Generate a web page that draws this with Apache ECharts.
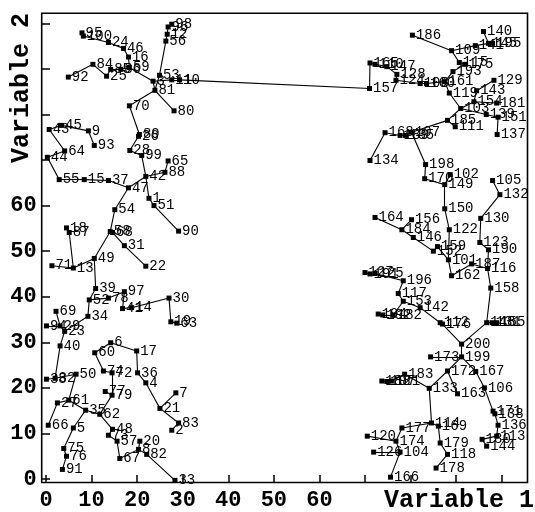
<!DOCTYPE html>
<html>
<head>
<meta charset="utf-8">
<script src="https://cdn.jsdelivr.net/npm/echarts@6/dist/echarts.min.js"></script>
<style>
html,body{margin:0;padding:0;background:#fff;}
#chart{width:535px;height:512px;}
</style>
</head>
<body>
<div id="chart"></div>
<script>
// ---- data ----
const leftIds = [98,96,12,56,95,100,24,46,16,59,84,25,85,86,92,53,3,11,10,81,
  70,80,89,26,45,43,9,93,64,44,28,99,65,55,15,37,47,42,88,1,
  51,90,54,18,87,58,68,31,22,49,13,71,39,52,78,97,41,14,30,19,
  63,69,34,94,29,23,40,6,60,17,74,72,36,4,38,32,50,77,79,7,
  21,83,2,27,61,35,62,66,5,48,73,57,20,8,82,67,75,76,91,33];
const leftX = [27.6,26.8,26.6,26.3,7.9,8.2,13.7,17.0,18.1,18.3,10.3,13.3,14.2,16.4,4.9,24.9,23.5,27.6,29.3,23.9,
  18.3,28.1,20.5,20.3,3.4,0.7,9.3,10.6,4.1,0.3,18.4,21.0,26.8,2.9,8.4,13.7,18.1,21.9,26.1,22.6,
  23.7,29.1,15.1,4.5,5.1,14.1,14.6,17.2,21.9,10.6,6.0,1.3,10.9,9.5,13.7,17.2,16.8,18.8,27.0,27.4,
  28.7,2.2,9.2,0.1,3.1,4.1,3.1,14.2,10.7,19.9,12.6,14.5,20.1,21.9,0.1,2.0,6.6,13.0,14.5,28.5,
  25.0,29.1,27.6,2.5,5.0,8.7,11.8,0.5,6.0,14.6,13.7,15.6,20.6,20.3,22.1,16.2,3.9,4.5,3.6,28.3];
const leftY = [99.8,99.2,97.6,96.1,97.9,97.2,95.8,94.5,92.6,90.3,91.0,88.4,89.9,89.9,88.2,88.6,87.3,87.6,87.6,85.3,
  81.9,80.8,75.6,75.2,77.6,76.7,76.4,73.2,72.0,70.6,72.1,71.0,69.8,65.7,65.7,65.5,63.9,66.4,67.3,61.6,
  60.0,54.4,59.1,55.1,54.1,54.3,54.1,51.2,46.7,48.4,46.3,46.8,41.8,39.3,39.7,41.1,37.4,37.6,39.7,34.5,
  34.2,36.8,35.7,33.6,33.6,32.4,29.2,29.9,27.7,28.1,23.7,23.3,23.3,21.1,21.9,22.1,23.0,19.2,18.4,18.9,
  15.5,12.3,10.7,16.7,17.3,15.1,14.2,11.8,11.2,10.9,9.6,8.3,8.3,6.5,5.4,4.5,6.7,5.0,2.1,-0.3];

const rightIds = [186,140,109,141,145,195,115,175,193,165,110,147,157,128,124,108,160,161,119,143,
  129,154,181,103,139,151,185,111,137,168,189,135,107,134,198,170,102,149,105,132,
  150,130,164,156,184,146,122,123,190,159,152,101,187,116,162,158,127,191,125,196,
  117,153,142,194,192,182,112,176,148,131,155,200,173,199,172,167,183,188,197,121,
  133,163,106,171,138,136,113,180,144,177,114,169,179,118,178,120,174,126,104,166];
const rightX = [80.4,96.0,89.0,94.2,97.1,98.0,90.7,91.9,89.3,71.1,72.2,74.8,71.0,77.0,76.8,82.1,83.5,87.5,88.5,94.5,
  98.3,93.9,98.9,91.0,96.6,99.2,88.1,89.8,99.0,74.4,77.7,78.9,80.2,71.1,83.3,83.1,88.7,87.5,98.0,99.6,
  87.5,95.4,72.2,80.2,78.1,80.6,88.5,95.2,97.1,85.9,85.0,88.3,93.4,96.9,89.0,97.6,70.0,71.1,72.2,78.4,
  77.3,78.4,82.1,72.9,73.9,76.2,86.5,87.0,96.7,97.9,98.9,91.2,84.4,91.2,88.1,94.3,78.7,73.7,74.8,75.8,
  84.1,90.3,96.2,98.1,98.5,99.2,98.9,95.7,96.7,78.1,84.6,86.1,86.5,88.1,85.6,70.5,76.8,71.9,77.7,75.6];
const rightY = [97.4,98.2,94.0,95.1,95.6,95.6,91.4,91.0,89.4,91.3,91.0,90.5,85.7,88.8,87.5,86.8,86.8,87.2,84.7,85.2,
  87.5,82.8,82.5,81.3,80.0,79.4,78.7,77.3,75.6,76.0,75.4,75.4,76.1,69.9,69.0,65.9,66.8,64.6,65.5,62.4,
  59.3,57.2,57.4,56.9,54.7,53.0,54.7,51.9,50.3,51.0,50.0,48.1,47.2,46.2,44.6,41.9,45.3,45.0,45.1,43.5,
  40.7,39.0,37.6,36.2,36.0,36.0,34.3,34.0,34.3,34.3,34.3,29.6,26.8,26.8,23.7,23.6,23.0,21.5,21.4,21.5,
  19.9,18.7,20.0,14.9,14.3,11.8,9.4,8.7,7.2,11.2,12.3,11.6,7.9,5.4,2.4,9.4,8.3,5.9,5.9,0.4];

const leftEdges = [[95,100],[100,24],[24,46],[46,16],[16,59],[92,84],[84,25],[25,85],[85,86],[86,59],
  [59,3],[3,81],[81,53],[53,56],[56,12],[12,96],[96,98],[3,11],[11,10],[81,70],[81,80],[70,89],[89,26],
  [26,28],[28,99],[99,42],[42,88],[88,65],[42,47],[42,1],[1,51],[51,90],[47,37],[37,15],[15,55],[55,44],
  [44,64],[64,43],[43,45],[45,9],[9,93],[47,54],[54,58],[58,68],[68,31],[31,22],[58,49],[49,13],[13,87],
  [87,18],[13,71],[49,39],[39,52],[52,78],[78,97],[97,41],[41,14],[14,30],[30,19],[19,63],[52,34],[34,23],
  [23,29],[29,94],[69,29],[23,40],[40,32],[32,38],[32,50],[50,61],[61,27],[27,66],[61,35],[35,5],[5,75],
  [75,76],[76,91],[35,62],[62,79],[79,77],[79,72],[72,74],[74,60],[60,6],[6,17],[17,36],[36,4],[4,21],
  [21,7],[21,83],[83,2],[62,48],[48,73],[73,57],[57,67],[67,8],[8,20],[8,82],[82,33]];
const bridgeEdges = [[10,157]];
const rightEdges = [[157,165],[165,110],[110,147],[147,128],[128,124],[124,108],[108,160],[160,161],[161,193],
  [193,175],[175,115],[115,109],[109,186],[109,141],[141,145],[145,195],[145,140],[161,119],[119,103],
  [103,154],[154,143],[143,129],[154,181],[103,139],[139,151],[151,137],[103,185],[185,111],[185,107],
  [107,135],[135,189],[189,168],[168,134],[107,198],[198,170],[170,149],[149,102],[149,150],[150,122],
  [122,101],[101,159],[159,152],[152,146],[146,184],[184,164],[184,156],[101,162],[162,187],[187,116],
  [116,190],[190,123],[123,130],[130,132],[132,105],[116,158],[158,148],[148,131],[131,155],[148,200],
  [200,176],[176,112],[112,142],[142,153],[153,117],[117,196],[196,125],[125,191],[191,127],[153,182],
  [182,192],[192,194],[200,199],[199,173],[199,172],[199,167],[167,106],[106,171],[171,138],[138,136],
  [136,113],[113,180],[180,144],[172,163],[172,133],[133,183],[183,121],[121,197],[197,188],[133,114],
  [114,169],[169,179],[179,118],[118,178],[114,177],[177,174],[174,104],[104,166],[174,120],[104,126]];

const tickValues = [0,10,20,30,40,50,60,70,80,90,100];
const labelledTicks = [0,10,20,30,40,50,60];
const xTitle = 'Variable 1';
const yTitle = 'Variable 2';

// ---- build ----
const nodes = [];
leftIds.forEach((id,i)=>nodes.push({name:String(id), value:[leftX[i], leftY[i]]}));
rightIds.forEach((id,i)=>nodes.push({name:String(id), value:[rightX[i], rightY[i]]}));
const links = leftEdges.concat(bridgeEdges, rightEdges).map(e=>({source:String(e[0]), target:String(e[1])}));

const mono = '"Liberation Mono", "DejaVu Sans Mono", monospace';
const tickFmt = v => labelledTicks.indexOf(v) >= 0 ? String(v) : '';
const tickLabel = {show:true, margin:7, formatter:tickFmt, color:'#000', fontFamily:mono, fontSize:22, fontWeight:'bold', showMinLabel:true, showMaxLabel:true};
const tickLine = {lineStyle:{color:'#000', width:1.5}};

const chart = echarts.init(document.getElementById('chart'), null, {renderer:'canvas'});
chart.setOption({
  animation:false,
  backgroundColor:'#fff',
  grid:[
    {left:41.7, top:13.3, width:485.8, height:469.2, show:true, borderColor:'#000', borderWidth:1.6, backgroundColor:'transparent', containLabel:false},
    {left:46, top:23.4, width:455.7, height:455.6, containLabel:false},
    {left:46, top:23.4, width:455.7, height:455.6, containLabel:false}
  ],
  xAxis:[
    {gridIndex:0, type:'value', min:-0.94, max:105.66, show:false},
    {gridIndex:1, type:'value', min:0, max:100, interval:10, position:'bottom', offset:3.5,
      axisLine:{show:false}, splitLine:{show:false},
      axisTick:Object.assign({show:true, length:4, inside:false}, tickLine),
      axisLabel:Object.assign({}, tickLabel, {margin:7})},
    {gridIndex:2, type:'value', min:0, max:100, interval:10, position:'bottom', offset:3.5,
      axisLine:{show:false}, splitLine:{show:false},
      axisTick:Object.assign({show:true, length:4, inside:true}, tickLine),
      axisLabel:{show:false}}
  ],
  yAxis:[
    {gridIndex:0, type:'value', min:-0.77, max:102.2, show:false},
    {gridIndex:1, type:'value', min:0, max:100, interval:10, position:'left', offset:4.3,
      axisLine:{show:false}, splitLine:{show:false},
      axisTick:Object.assign({show:true, length:4, inside:false}, tickLine),
      axisLabel:Object.assign({}, tickLabel, {margin:5})},
    {gridIndex:2, type:'value', min:0, max:100, interval:10, position:'left', offset:4.3,
      axisLine:{show:false}, splitLine:{show:false},
      axisTick:Object.assign({show:true, length:4, inside:true}, tickLine),
      axisLabel:{show:false}}
  ],
  graphic:[
    {type:'text', x:459, y:501, silent:true,
      style:{text:xTitle, font:'bold 25px ' + mono, fill:'#000', textAlign:'center', textVerticalAlign:'middle', align:'center', verticalAlign:'middle'}},
    {type:'text', x:22, y:88, rotation:Math.PI/2, silent:true,
      style:{text:yTitle, font:'bold 25px ' + mono, fill:'#000', textAlign:'center', textVerticalAlign:'middle', align:'center', verticalAlign:'middle'}}
  ],
  series:[{
    type:'graph', coordinateSystem:'cartesian2d', xAxisIndex:0, yAxisIndex:0,
    symbol:'rect', symbolSize:5, silent:true,
    data:nodes, links:links,
    itemStyle:{color:'#000'},
    lineStyle:{color:'#000', width:1.1, opacity:1, curveness:0},
    label:{show:true, position:'right', distance:1, formatter:'{b}', color:'#000', fontFamily:mono, fontSize:14},
    emphasis:{disabled:true}
  }]
});
</script>
</body>
</html>
